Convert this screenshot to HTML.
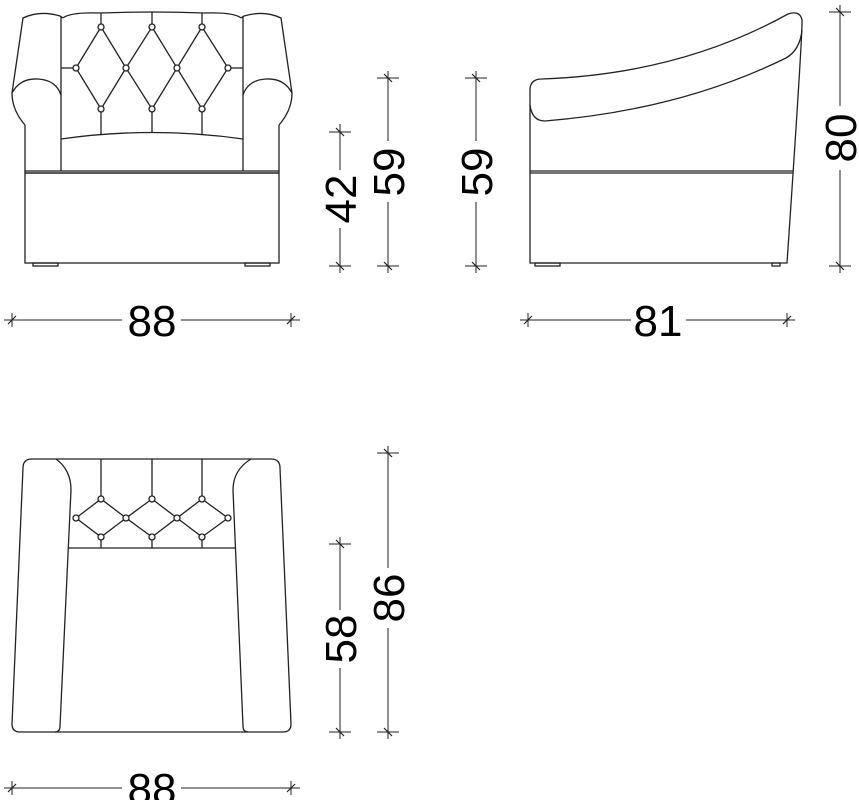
<!DOCTYPE html>
<html><head><meta charset="utf-8"><style>
html,body{margin:0;padding:0;background:#fff;}
svg{display:block;}
text{font-family:"Liberation Sans",sans-serif;font-size:44px;fill:#000;}
</style></head><body>
<svg width="859" height="800" viewBox="0 0 859 800" xmlns="http://www.w3.org/2000/svg">
<defs>
<g id="tk"><line x1="0" y1="-7" x2="0" y2="7" stroke="#222" stroke-width="1"/><line x1="-4" y1="4" x2="4" y2="-4" stroke="#222" stroke-width="1.2"/></g>
<g id="tkv"><line x1="-11" y1="0" x2="11" y2="0" stroke="#222" stroke-width="1"/><line x1="-4" y1="-4" x2="4" y2="4" stroke="#222" stroke-width="1.2"/></g>
</defs>
<g fill="none" stroke="#222" stroke-width="1.3">
<!-- FRONT VIEW -->
<path d="M25,125 Q12,110 12,93 L23,18 Q40,10 60,16 L63,18"/>
<path d="M12,93 Q20,78 38,79 Q56,80 61,95"/>
<path d="M279,125 Q292,110 292,93 L281,18 Q264,10 244,16 L241,18"/>
<path d="M292,93 Q284,78 266,79 Q248,80 243,95"/>
<path d="M63,18 Q70,12 100,13 Q152,11 204,13 Q234,12 241,18"/>
<line x1="61" y1="16" x2="61" y2="171"/><line x1="243" y1="16" x2="243" y2="171"/>
<line x1="25" y1="125" x2="25" y2="171"/><line x1="279" y1="125" x2="279" y2="171"/>
<path d="M61,139 Q152,126 243,139"/>
<rect x="25" y="171" width="254" height="92"/>
<line x1="25" y1="173" x2="279" y2="173" stroke-width="1.6"/>
<rect x="33" y="263" width="25" height="3"/><rect x="245" y="263" width="25" height="3"/>
<path d="M76,68 L101,27 L126,68 L152,27 L177,68 L202,27 L228,68 L202,109 L177,68 L152,109 L126,68 L101,109 Z"/>
<line x1="101" y1="13" x2="101" y2="27"/><line x1="152" y1="12" x2="152" y2="27"/><line x1="202" y1="13" x2="202" y2="27"/>
<line x1="101" y1="109" x2="101" y2="135"/><line x1="152" y1="109" x2="152" y2="133"/><line x1="202" y1="109" x2="202" y2="135"/>
<line x1="61" y1="68" x2="76" y2="68"/><line x1="228" y1="68" x2="243" y2="68"/>
<g fill="#fff"><circle cx="101" cy="27" r="3"/><circle cx="152" cy="27" r="3"/><circle cx="202" cy="27" r="3"/><circle cx="76" cy="68" r="3"/><circle cx="126" cy="68" r="3"/><circle cx="177" cy="68" r="3"/><circle cx="228" cy="68" r="3"/><circle cx="101" cy="109" r="3"/><circle cx="152" cy="109" r="3"/><circle cx="202" cy="109" r="3"/></g>
<!-- SIDE VIEW -->
<path d="M530,263 L530,90 Q530,79 542,79 Q680,74 788,14 Q800,10 802,20 Q803,28 787,263 Z"/>
<path d="M530,105 Q532,121 545,121 Q680,110 786,58 Q800,50 802,30"/>
<line x1="530" y1="171" x2="793" y2="171"/><line x1="530" y1="173" x2="793" y2="173"/>
<rect x="535" y="263" width="25" height="3"/><rect x="772" y="263" width="8" height="3"/>
<!-- PLAN VIEW -->
<path d="M32,459 L271,459 Q280,459 280,468 L291,724 Q291,732 283,732 L20,732 Q12,732 12,724 L23,468 Q23,459 32,459 Z"/>
<path d="M56,459 Q71,470 71,490 L60,726 Q60,732 55,732"/>
<path d="M251,459 Q233,470 233,490 L243,726 Q243,732 248,732"/>
<line x1="68" y1="548" x2="235" y2="548"/>
<path d="M76,518 L101,499 L126,518 L152,499 L177,518 L202,499 L228,518 L202,537 L177,518 L152,537 L126,518 L101,537 Z"/>
<line x1="101" y1="459" x2="101" y2="499"/><line x1="152" y1="459" x2="152" y2="499"/><line x1="202" y1="459" x2="202" y2="499"/>
<line x1="101" y1="537" x2="101" y2="548"/><line x1="152" y1="537" x2="152" y2="548"/><line x1="202" y1="537" x2="202" y2="548"/>
<g fill="#fff"><circle cx="101" cy="499" r="3"/><circle cx="152" cy="499" r="3"/><circle cx="202" cy="499" r="3"/><circle cx="76" cy="518" r="3"/><circle cx="126" cy="518" r="3"/><circle cx="177" cy="518" r="3"/><circle cx="228" cy="518" r="3"/><circle cx="101" cy="537" r="3"/><circle cx="152" cy="537" r="3"/><circle cx="202" cy="537" r="3"/></g>
</g>
<!-- DIMENSIONS -->
<g stroke="#222" stroke-width="1">
<line x1="4" y1="320" x2="122" y2="320"/><line x1="181" y1="320" x2="300" y2="320"/>
<line x1="520" y1="320" x2="631" y2="320"/><line x1="686" y1="320" x2="795" y2="320"/>
<line x1="4" y1="788" x2="122" y2="788"/><line x1="181" y1="788" x2="300" y2="788"/>
<line x1="340" y1="124" x2="340" y2="170"/><line x1="340" y1="228" x2="340" y2="273"/>
<line x1="388" y1="71" x2="388" y2="141"/><line x1="388" y1="202" x2="388" y2="273"/>
<line x1="476" y1="71" x2="476" y2="141"/><line x1="476" y1="202" x2="476" y2="273"/>
<line x1="840" y1="5" x2="840" y2="106"/><line x1="840" y1="170" x2="840" y2="273"/>
<line x1="340" y1="537" x2="340" y2="610"/><line x1="340" y1="668" x2="340" y2="739"/>
<line x1="388" y1="446" x2="388" y2="568"/><line x1="388" y1="628" x2="388" y2="739"/>
</g>
<use href="#tk" x="12" y="320"/><use href="#tk" x="291" y="320"/>
<use href="#tk" x="528" y="320"/><use href="#tk" x="787" y="320"/>
<use href="#tk" x="12" y="788"/><use href="#tk" x="291" y="788"/>
<use href="#tkv" x="340" y="132"/><use href="#tkv" x="340" y="266"/>
<use href="#tkv" x="388" y="78"/><use href="#tkv" x="388" y="266"/>
<use href="#tkv" x="476" y="78"/><use href="#tkv" x="476" y="266"/>
<use href="#tkv" x="840" y="12"/><use href="#tkv" x="840" y="266"/>
<use href="#tkv" x="340" y="544"/><use href="#tkv" x="340" y="732"/>
<use href="#tkv" x="388" y="453"/><use href="#tkv" x="388" y="732"/>
<text x="152" y="336" text-anchor="middle">88</text>
<text x="658" y="336" text-anchor="middle">81</text>
<text x="152" y="804" text-anchor="middle">88</text>
<text transform="translate(356,199) rotate(-90)" text-anchor="middle">42</text>
<text transform="translate(404,172) rotate(-90)" text-anchor="middle">59</text>
<text transform="translate(492,172) rotate(-90)" text-anchor="middle">59</text>
<text transform="translate(856,138) rotate(-90)" text-anchor="middle">80</text>
<text transform="translate(356,639) rotate(-90)" text-anchor="middle">58</text>
<text transform="translate(404,598) rotate(-90)" text-anchor="middle">86</text>
</svg>
</body></html>
